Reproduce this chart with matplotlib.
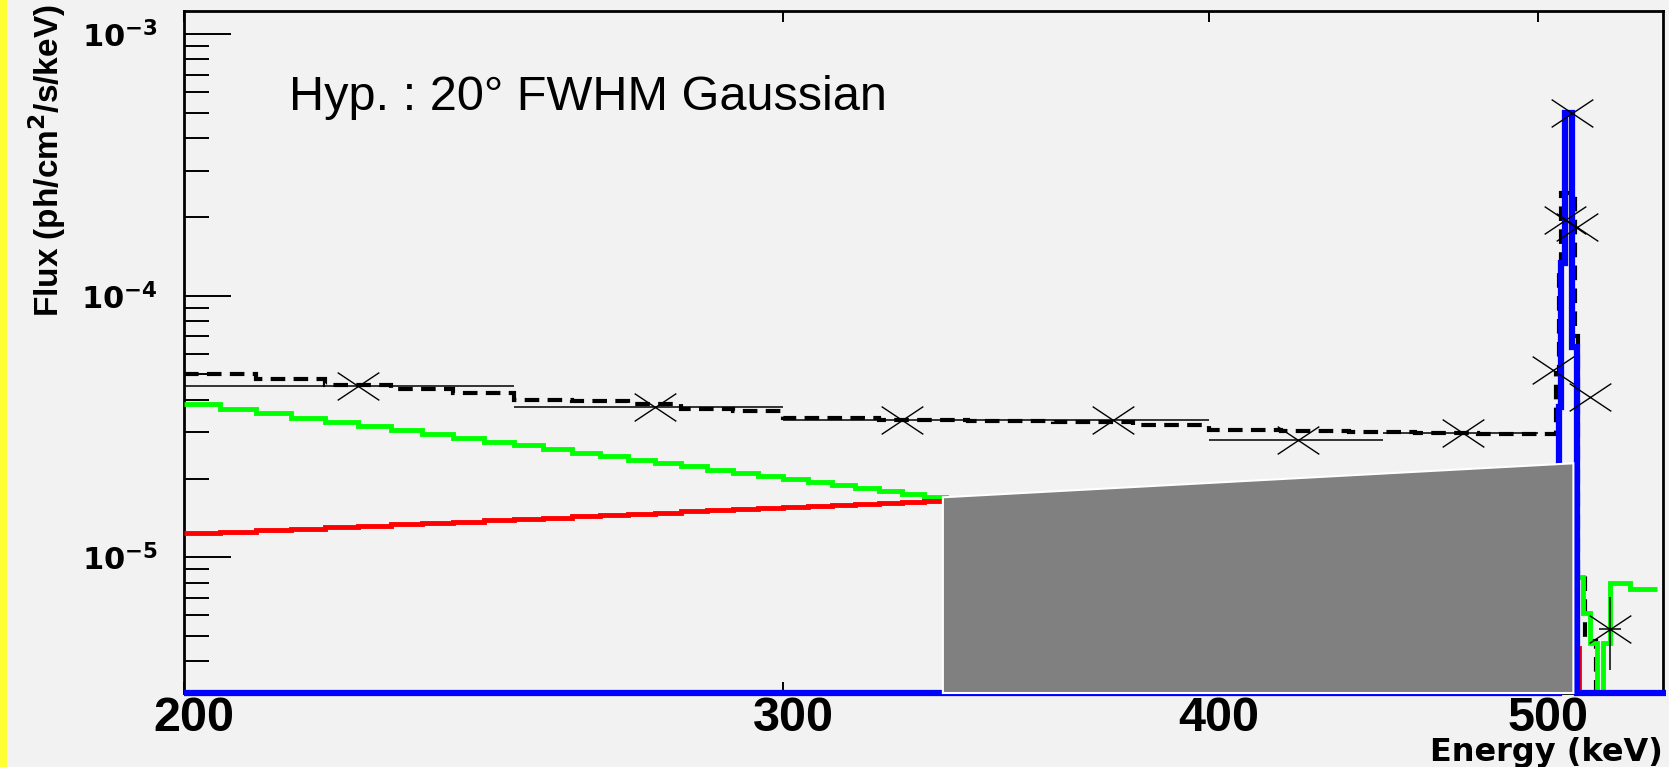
import numpy as np
import matplotlib
matplotlib.use('Agg')
import matplotlib.pyplot as plt
from matplotlib.path import Path
from matplotlib.patches import Polygon, Rectangle
from matplotlib.ticker import LogLocator, NullLocator, NullFormatter
from matplotlib.transforms import ScaledTranslation

# axes
x_min, x_max = 200, 544
y_min, y_max = 3.03e-6, 1.225e-3
x_ticks = [200, 300, 400, 500]
x_tick_labels = ['200', '300', '400', '500']
y_ticks = [1e-5, 1e-4, 1e-3]
y_tick_labels = [r'$\mathbf{10^{-5}}$', r'$\mathbf{10^{-4}}$', r'$\mathbf{10^{-3}}$']

# total model, black dashed histogram (keV edges, ph/cm2/s/keV)
total_edges = [200, 210, 220, 230, 240, 250, 260, 270, 280, 290, 300, 320, 340, 360, 380,
               400, 420, 440, 460, 480, 505.9, 507.2, 507.8, 512.5, 513.5, 516.0, 520.0, 545]
total_flux = [5.0e-5, 4.8e-5, 4.55e-5, 4.4e-5, 4.25e-5, 4.0e-5, 3.95e-5, 3.85e-5, 3.7e-5, 3.62e-5,
              3.42e-5, 3.36e-5, 3.33e-5, 3.3e-5, 3.2e-5, 3.08e-5, 3.03e-5, 3.0e-5, 2.98e-5, 2.97e-5,
              5.05e-5, 1.29e-4, 2.47e-4, 7.0e-5, 8.7e-6, 4.8e-6, 0]

# 5 keV bins of the two continua below the grey box
cont_edges = [200, 205, 210, 215, 220, 225, 230, 235, 240, 245, 250, 255, 260, 265, 270,
              275, 280, 285, 290, 295, 300, 305, 310, 315, 320, 325, 330, 335, 340]

# green continuum
green_low = [3.84e-5, 3.69e-5, 3.55e-5, 3.42e-5, 3.29e-5, 3.17e-5, 3.06e-5, 2.96e-5,
             2.86e-5, 2.76e-5, 2.68e-5, 2.59e-5, 2.51e-5, 2.43e-5, 2.36e-5, 2.29e-5,
             2.23e-5, 2.16e-5, 2.10e-5, 2.04e-5, 1.99e-5, 1.94e-5, 1.89e-5, 1.84e-5,
             1.79e-5, 1.75e-5, 1.70e-5, 1.66e-5]
green_high_edges = [515.3, 517.8, 520.1, 522.4, 524.8, 532.0, 541.8]
green_high = [8.4e-6, 6.1e-6, 4.7e-6, 0, 4.7e-6, 8.0e-6, 7.6e-6]

# red (ortho-positronium) continuum
red_low = [1.234e-5, 1.251e-5, 1.269e-5, 1.286e-5, 1.303e-5, 1.320e-5, 1.337e-5, 1.354e-5,
           1.370e-5, 1.386e-5, 1.403e-5, 1.419e-5, 1.435e-5, 1.450e-5, 1.466e-5, 1.482e-5,
           1.497e-5, 1.512e-5, 1.528e-5, 1.543e-5, 1.558e-5, 1.573e-5, 1.587e-5, 1.602e-5,
           1.617e-5, 1.631e-5, 1.646e-5, 1.660e-5]
red_high_edges = [512.5, 514.0, 545]
red_high = [1.6e-5, 4.5e-6, 0]

# blue 511 keV line
blue_edges = [200, 507.0, 507.8, 509.1, 511.5, 513.2, 545]
blue_flux = [0, 3.75e-5, 1.33e-4, 5.0e-4, 6.35e-5, 0]

# data points
pt_e = [225, 275, 325, 375, 425, 475, 504.9, 509.2, 511.4, 513.3, 517.8, 524.8]
pt_f = [4.51e-5, 3.76e-5, 3.36e-5, 3.36e-5, 2.82e-5, 2.98e-5, 5.19e-5, 1.94e-4, 4.99e-4,
        1.83e-4, 4.09e-5, 5.31e-6]
pt_xlo = [25, 25, 25, 25, 25, 25, 0, 0, 0, 0, 0, 4]
pt_xhi = [25, 25, 25, 25, 25, 25, 0, 0, 0, 0, 0, 4]
pt_ylo = [0, 0, 0, 0, 0, 0, 0, 0, 0, 0, 0, 1.61e-6]
pt_yhi = [0, 0, 0, 0, 0, 0, 0, 0, 0, 0, 0, 1.72e-6]

# grey box pasted over the plot
box_e = [334.2, 512.0]
box_top = [1.696e-5, 2.288e-5]

bg = '#f2f2f2'
fig = plt.figure(figsize=(16.69, 7.67), dpi=100, facecolor=bg)
ax = fig.add_axes([184 / 1669, 1 - 693 / 767, 1479 / 1669, 682 / 767])
ax.set_facecolor(bg)
ax.set_xscale('log')
ax.set_yscale('log')
ax.set_xlim(x_min, x_max)
ax.set_ylim(y_min, y_max)


def floor(v):
    v = np.array(v, dtype=float)
    return np.where(v > 0, v, y_min)


ax.stairs(floor(total_flux), total_edges, baseline=None, fill=False, color='black',
          lw=3, linestyle=(0, (3.5, 2)), zorder=2)
ax.stairs(floor(green_low + green_high), cont_edges + green_high_edges, baseline=None,
          fill=False, color='#00ff00', lw=3.5, zorder=3)
ax.stairs(floor(red_low + red_high), cont_edges + red_high_edges, baseline=None,
          fill=False, color='#ff0000', lw=3.5, zorder=3)
ax.stairs(floor(blue_flux), blue_edges, baseline=None, fill=False, color='#0000ff',
          lw=4.5, zorder=4, clip_on=False)

xmark = Path([(-1.5, -1), (1.5, 1), (-1.5, 1), (1.5, -1)],
             [Path.MOVETO, Path.LINETO, Path.MOVETO, Path.LINETO])
ax.errorbar(pt_e, pt_f, xerr=[pt_xlo, pt_xhi], yerr=[pt_ylo, pt_yhi], fmt='none',
            ecolor='black', elinewidth=1.1, capsize=0, zorder=5)
ax.plot(pt_e, pt_f, linestyle='none', marker=xmark, markersize=30, markeredgewidth=1.0,
        markeredgecolor='black', markerfacecolor='none', zorder=5)

box = Polygon([(box_e[0], box_top[0]), (box_e[1], box_top[1]), (box_e[1], y_min), (box_e[0], y_min)],
              closed=True, facecolor='#808080', edgecolor='white', lw=1.5, zorder=6, clip_on=False)
ax.add_patch(box)

# frame and ticks
for s in ax.spines.values():
    s.set_linewidth(2)
    s.set_color('black')

ax.set_xticks(x_ticks)
ax.set_xticklabels(x_tick_labels, fontsize=35, fontweight='bold', family='Liberation Sans')
ax.xaxis.set_minor_locator(NullLocator())
ax.tick_params(axis='x', which='major', direction='in', top=True, bottom=True,
               length=8, width=1.4, pad=2)
for lab in ax.get_xticklabels():
    lab.set_transform(lab.get_transform() + ScaledTranslation(0.1, 0, fig.dpi_scale_trans))

ax.set_yticks(y_ticks)
ax.set_yticklabels(y_tick_labels, fontsize=22)
ax.yaxis.set_minor_locator(LogLocator(base=10, subs=np.arange(2, 10)))
ax.yaxis.set_minor_formatter(NullFormatter())
ax.tick_params(axis='y', which='major', direction='in', left=True, right=False,
               length=34, width=1.4, pad=19)
ax.tick_params(axis='y', which='minor', direction='in', left=True, right=False,
               length=18, width=1.4)

ax.set_xlabel('Energy (keV)', fontsize=23, fontweight='bold', family='DejaVu Sans',
              ha='right', va='baseline')
ax.xaxis.set_label_coords(1.0, (693 - 761) / 682)
ax.set_ylabel('Flux (ph/cm$^\\mathbf{2}$/s/keV)', fontsize=24, fontweight='bold',
              family='Liberation Sans', ha='center', va='center')
ax.yaxis.set_label_coords((47 - 184) / 1479, (693 - 161) / 682)

ax.text(0.071, 0.855, 'Hyp. : 20° FWHM Gaussian', transform=ax.transAxes, fontsize=35,
        family='Liberation Sans', ha='left', va='baseline', zorder=7)

# yellow strip on the left edge of the slide
fig.add_artist(Rectangle((0, 0), 7 / 1669, 1, transform=fig.transFigure,
                         facecolor='#ffff33', edgecolor='none'))

fig.savefig('out.png', dpi=100, facecolor=bg)
